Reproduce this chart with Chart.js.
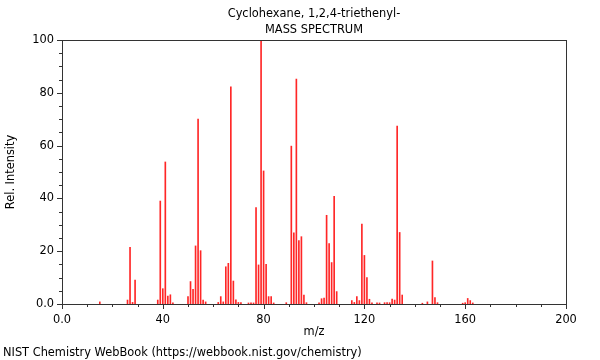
<!DOCTYPE html>
<html>
<head>
<meta charset="utf-8">
<script src="https://cdn.jsdelivr.net/npm/chart.js@4.4.1/dist/chart.umd.min.js"></script>
<style>
  html, body { margin: 0; padding: 0; background: #fff; }
  #wrap { position: relative; width: 600px; height: 360px; }
  #footer {
    position: absolute; left: 3px; top: 345px;
    font: 11.4px "DejaVu Sans", sans-serif; color: #000; white-space: nowrap;
  }
</style>
</head>
<body>
<div id="wrap">
  <canvas id="ms" width="600" height="360"></canvas>
  <div id="footer">NIST Chemistry WebBook (https://webbook.nist.gov/chemistry)</div>
</div>
<script>
const titleLines = ['Cyclohexane, 1,2,4-triethenyl-', 'MASS SPECTRUM'];

// m/z values and relative intensities
const mz = [15, 26, 27, 28, 29, 38, 39, 40, 41, 42, 43, 44,
    50, 51, 52, 53, 54, 55, 56, 57, 62, 63, 64, 65, 66, 67, 68, 69, 70, 71,
    74, 75, 76, 77, 78, 79, 80, 81, 82, 83, 84, 89,
    91, 92, 93, 94, 95, 96, 97, 102, 103, 104, 105, 106, 107, 108, 109,
    115, 116, 117, 118, 119, 120, 121, 122, 123, 125, 126, 128, 129, 130,
    131, 132, 133, 134, 135, 143, 145, 147, 148, 149, 159, 160, 161, 162, 163];
const intensity = [0.8, 1.5, 21.5, 0.6, 9.1, 1.5, 39, 5.8, 53.8, 3, 3.5, 0.4,
    2.8, 8.5, 5.6, 22, 70, 20.2, 1.5, 0.8, 0.6, 2.8, 0.8, 14.1, 15.4, 82.3, 8.7, 1.6, 0.6, 0.5,
    0.4, 0.4, 0.4, 36.5, 14.8, 100, 50.4, 15, 2.8, 2.8, 0.4, 0.5,
    59.8, 27, 85.2, 24, 25.5, 3.4, 0.5, 0.4, 2, 2.2, 33.6, 22.9, 15.7, 40.8, 4.7,
    1.3, 0.6, 2.8, 1.3, 30.3, 18.4, 10, 1.8, 0.4, 0.4, 0.4, 0.5, 0.5, 0.5,
    1.9, 1.5, 67.4, 27.1, 3.4, 0.3, 0.8, 16.3, 2.4, 0.5, 0.3, 0.5, 2.1, 1.3, 0.4];

const xTicks = [0, 40, 80, 120, 160, 200];
const yTicks = [0, 20, 40, 60, 80, 100];

const FONT = '"DejaVu Sans", sans-serif';
const FSIZE = 11.4;

// frame, minor/major ticks and the two title lines
const framePlugin = {
    id: 'frame',
    afterDraw(chart) {
        const { ctx, chartArea: a, scales } = chart;
        ctx.save();
        ctx.strokeStyle = '#333';
        ctx.lineWidth = 1;
        ctx.strokeRect(a.left + 0.5, a.top + 0.5, a.right - a.left, a.bottom - a.top);

        ctx.beginPath();
        for (let v = 0; v <= 200; v += 10) {
            const px = Math.round(scales.x.getPixelForValue(v)) + 0.5;
            const len = v % 40 === 0 ? 5 : 3;
            ctx.moveTo(px, a.bottom);
            ctx.lineTo(px, a.bottom + len);
        }
        for (let v = 0; v <= 100; v += 5) {
            const py = Math.round(scales.y.getPixelForValue(v)) + 0.5;
            const len = v % 20 === 0 ? 5 : 3;
            ctx.moveTo(a.left, py);
            ctx.lineTo(a.left - len, py);
        }
        ctx.stroke();

        ctx.fillStyle = '#000';
        ctx.font = FSIZE + 'px ' + FONT;
        ctx.textAlign = 'center';
        ctx.textBaseline = 'middle';
        const cx = (a.left + a.right) / 2;
        ctx.fillText(titleLines[0], cx, 14);
        ctx.fillText(titleLines[1], cx, 30);
        ctx.restore();
    }
};

new Chart(document.getElementById('ms'), {
    type: 'bar',
    data: {
        datasets: [{
            data: mz.map((m, i) => ({ x: m, y: intensity[i] })),
            backgroundColor: 'rgba(255, 0, 0, 0.85)',
            borderWidth: 0,
            barThickness: 1,
        }]
    },
    options: {
        responsive: false,
        animation: false,
        events: [],
        layout: { padding: { top: 40, right: 34, left: 0, bottom: 0 } },
        plugins: {
            legend: { display: false },
            tooltip: { enabled: false },
        },
        scales: {
            x: {
                type: 'linear',
                min: 0,
                max: 200,
                offset: false,
                afterFit(scale) { scale.height = 56; },
                afterBuildTicks(scale) { scale.ticks = xTicks.map(v => ({ value: v })); },
                grid: { display: false, drawTicks: false },
                border: { display: false },
                ticks: {
                    padding: 9,
                    color: '#000',
                    font: { family: FONT, size: FSIZE },
                    maxRotation: 0,
                    callback: v => v === 0 ? '0.0' : String(v),
                },
                title: {
                    display: true,
                    text: 'm/z',
                    color: '#000',
                    font: { family: FONT, size: FSIZE },
                    padding: { top: 0, bottom: 21 },
                },
            },
            y: {
                min: 0,
                max: 100,
                afterFit(scale) { scale.width = 62; },
                afterBuildTicks(scale) { scale.ticks = yTicks.map(v => ({ value: v })); },
                grid: { display: false, drawTicks: false },
                border: { display: false },
                ticks: {
                    padding: 8,
                    color: '#000',
                    font: { family: FONT, size: FSIZE },
                    callback: v => v === 0 ? '0.0' : String(v),
                },
                title: {
                    display: true,
                    text: 'Rel. Intensity',
                    color: '#000',
                    font: { family: FONT, size: FSIZE },
                    padding: { top: 4, bottom: 0 },
                },
            },
        },
    },
    plugins: [framePlugin],
});
</script>
</body>
</html>
